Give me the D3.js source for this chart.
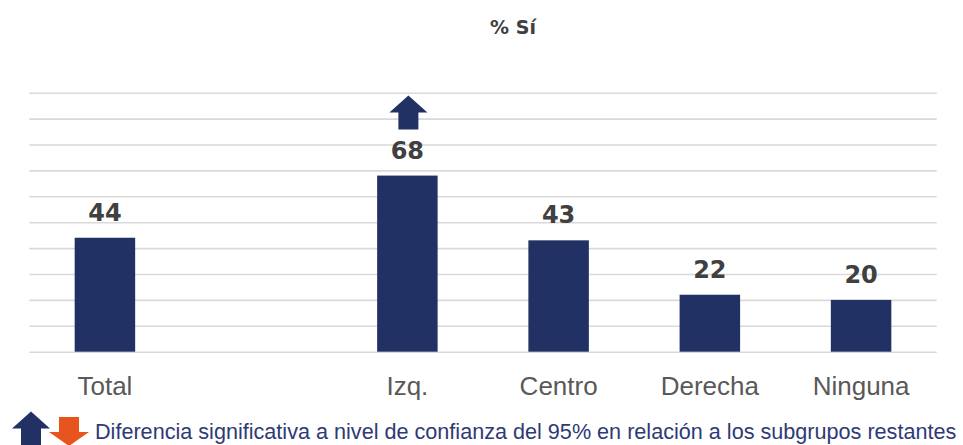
<!DOCTYPE html>
<html>
<head>
<meta charset="utf-8">
<script src="https://cdn.jsdelivr.net/npm/d3@7"></script>
<style>
  body { margin: 0; background: #fff; }
  svg { display: block; }
</style>
</head>
<body>
<svg id="chart" width="963" height="445"></svg>
<script>
// data
var categories = ["Total", "", "Izq.", "Centro", "Derecha", "Ninguna"];
var values = [44, null, 68, 43, 22, 20];
var signif = [null, null, "up", null, null, null];
var yTicks = [0, 10, 20, 30, 40, 50, 60, 70, 80, 90, 100];
var title = "% Sí";
var note = "Diferencia significativa a nivel de confianza del 95% en relación a los subgrupos restantes";

var svg = d3.select("#chart");
var navy = "#223163", orange = "#E8541E";

var x = d3.scaleBand().domain(categories).range([29.3, 936.7]).padding(0);
var y = d3.scaleLinear().domain([0, 100]).range([351.7, 92.7]);
var barW = x.bandwidth() * 0.4;

// title
svg.append("text")
    .attr("x", 513).attr("y", 34)
    .attr("text-anchor", "middle")
    .style("font-family", "DejaVu Sans").style("font-weight", "bold")
    .style("font-size", "19px").style("fill", "#404040")
    .text(title);

// gridlines
var grid = svg.append("g").attr("transform", "translate(29.3,0)")
    .call(d3.axisLeft(y).tickValues(yTicks).tickSize(-(936.7 - 29.3)).tickFormat(""));
grid.select(".domain").remove();
grid.selectAll(".tick line").attr("stroke", "#d9d9d9").attr("stroke-width", 1.6);

// category labels
var xAxis = svg.append("g").attr("transform", "translate(0,351.7)")
    .call(d3.axisBottom(x).tickSize(0).tickPadding(0));
xAxis.select(".domain").remove();
xAxis.selectAll(".tick text")
    .attr("y", 43).attr("dy", null)
    .style("font-family", "Liberation Sans").style("font-size", "26px")
    .style("fill", "#595959");

var data = categories.map(function (c, i) {
    return {cat: c, v: values[i], sig: signif[i]};
}).filter(function (d) { return d.v != null; });

// bars
svg.selectAll("rect.bar").data(data).enter().append("rect")
    .attr("class", "bar")
    .attr("x", function (d) { return x(d.cat) + x.bandwidth() / 2 - barW / 2; })
    .attr("y", function (d) { return y(d.v); })
    .attr("width", barW)
    .attr("height", function (d) { return y(0) - y(d.v); })
    .attr("fill", navy);

// value labels
svg.selectAll("text.val").data(data).enter().append("text")
    .attr("class", "val")
    .attr("x", function (d) { return x(d.cat) + x.bandwidth() / 2; })
    .attr("y", function (d) { return y(d.v) - 17; })
    .attr("text-anchor", "middle")
    .style("font-family", "DejaVu Sans").style("font-weight", "bold")
    .style("font-size", "24px").style("fill", "#404040")
    .text(function (d) { return d.v; });

// arrows (tip at 0,0 ; 38 wide, 34 high)
var upPath = "M0,0 L19,17 L10,17 L10,34 L-10,34 L-10,17 L-19,17 Z";
var downPath = "M0,0 L-20,-14 L-10,-14 L-10,-29 L10,-29 L10,-14 L20,-14 Z";

svg.selectAll("path.sig").data(data.filter(function (d) { return d.sig; }))
    .enter().append("path")
    .attr("class", "sig")
    .attr("d", function (d) { return d.sig === "up" ? upPath : downPath; })
    .attr("transform", function (d) {
        var cx = x(d.cat) + x.bandwidth() / 2 + 1;
        return d.sig === "up" ? "translate(" + cx + "," + (y(d.v) - 80) + ")"
                              : "translate(" + cx + "," + (y(d.v) - 46) + ")";
    })
    .attr("fill", function (d) { return d.sig === "up" ? navy : orange; });

// legend
svg.append("path").attr("d", upPath).attr("fill", navy)
    .attr("transform", "translate(31,411.5)");
svg.append("path").attr("d", downPath).attr("fill", orange)
    .attr("transform", "translate(69,446)");

var noteText = svg.append("text")
    .attr("x", 95).attr("y", 439)
    .style("font-family", "Liberation Sans").style("font-size", "21px")
    .style("fill", "#2E3A75")
    .text(note);
var w = noteText.node().getComputedTextLength();
noteText.style("font-size", (21 * 862 / w) + "px");
</script>
</body>
</html>
